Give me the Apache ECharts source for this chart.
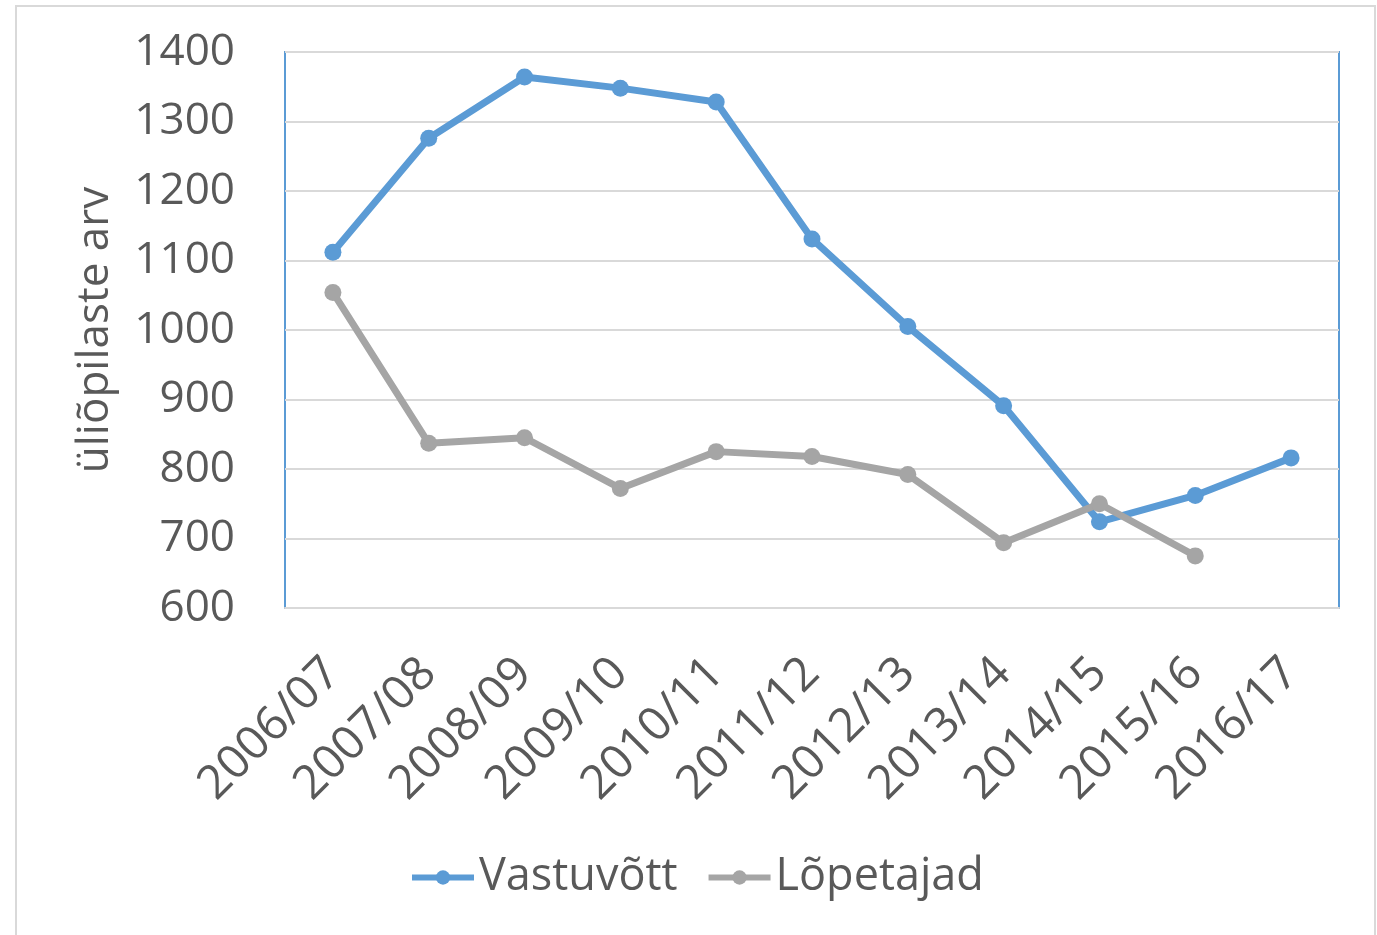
<!DOCTYPE html>
<html lang="et">
<head>
<meta charset="utf-8">
<title>Vastuvõtt ja lõpetajad</title>
<script src="https://cdn.jsdelivr.net/npm/echarts@6/dist/echarts.min.js"></script>
<style>
  html, body { margin: 0; padding: 0; background: #fff; }
  #chart { width: 1377px; height: 935px; }
</style>
</head>
<body>
<div id="chart"></div>
<script>
  // andmed
  const years = ['2006/07', '2007/08', '2008/09', '2009/10', '2010/11', '2011/12',
                 '2012/13', '2013/14', '2014/15', '2015/16', '2016/17'];
  const vastuvott = [1112, 1276, 1364, 1348, 1328, 1131, 1005, 891, 724, 762, 816];
  const lopetajad = [1054, 837, 845, 772, 825, 818, 792, 694, 750, 675, null];
  const yTicks = { min: 600, max: 1400, step: 100 };

  const textColor = '#595959';
  const font = '"Open Sans", sans-serif';

  const chart = echarts.init(document.getElementById('chart'));

  chart.setOption({
    animation: false,
    textStyle: { fontFamily: font, color: textColor },
    graphic: [{
      type: 'rect',
      shape: { x: 16, y: 6, width: 1359, height: 940 },
      style: { fill: 'none', stroke: '#d9d9d9', lineWidth: 2 },
      silent: true
    }],
    grid: {
      left: 285, top: 52, right: 38, bottom: 327,
      show: true, borderColor: '#5b9bd5', borderWidth: 2
    },
    legend: {
      bottom: 30,
      left: 404,
      itemWidth: 62,
      itemHeight: 18,
      itemGap: 28,
      lineStyle: { width: 6 },
      textStyle: { fontSize: 45, color: textColor, fontFamily: font },
      data: ['Vastuvõtt', 'Lõpetajad']
    },
    xAxis: {
      type: 'category',
      data: years,
      boundaryGap: true,
      axisLine: { show: true, lineStyle: { color: '#d9d9d9', width: 2 } },
      axisTick: { show: false },
      axisLabel: {
        rotate: 45,
        interval: 0,
        margin: 58,
        fontSize: 47,
        color: textColor,
        fontFamily: font
      }
    },
    yAxis: {
      type: 'value',
      min: yTicks.min,
      max: yTicks.max,
      interval: yTicks.step,
      name: 'üliõpilaste arv',
      nameLocation: 'middle',
      nameRotate: 90,
      nameGap: 168,
      nameTextStyle: { fontSize: 44, color: textColor, fontFamily: font },
      axisLine: { show: false },
      axisTick: { show: false },
      axisLabel: {
        fontSize: 44,
        margin: 50,
        color: textColor,
        fontFamily: font,
        formatter: v => String(v)
      },
      splitLine: { lineStyle: { color: '#d9d9d9', width: 2 } }
    },
    series: [
      {
        name: 'Vastuvõtt',
        type: 'line',
        data: vastuvott,
        symbol: 'circle',
        symbolSize: 17,
        lineStyle: { color: '#5b9bd5', width: 7 },
        itemStyle: { color: '#5b9bd5' },
        z: 3
      },
      {
        name: 'Lõpetajad',
        type: 'line',
        data: lopetajad,
        symbol: 'circle',
        symbolSize: 17,
        lineStyle: { color: '#a5a5a5', width: 7 },
        itemStyle: { color: '#a5a5a5' },
        z: 4
      }
    ]
  });
</script>
</body>
</html>
